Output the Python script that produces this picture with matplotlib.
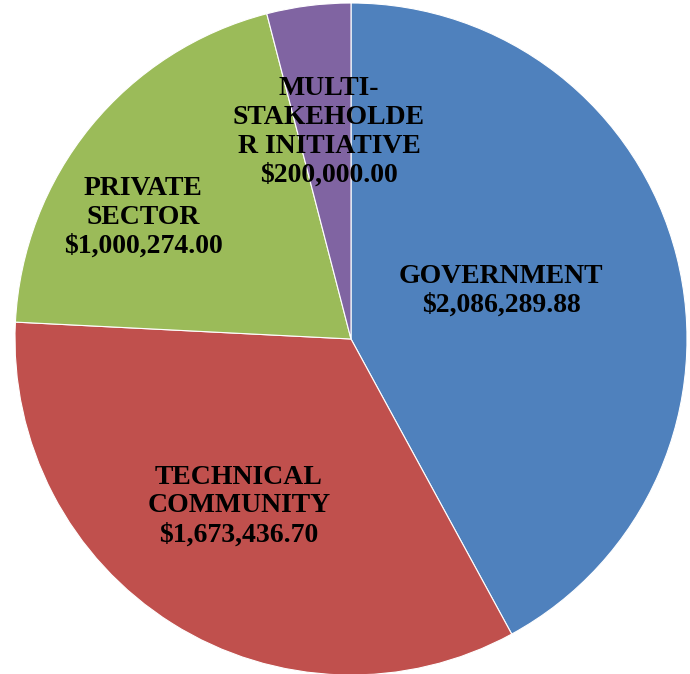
import matplotlib.pyplot as plt

# Datos del gráfico
categorias = ['GOVERNMENT', 'TECHNICAL\nCOMMUNITY', 'PRIVATE\nSECTOR', 'MULTI-\nSTAKEHOLDE\nR INITIATIVE']
montos = [2086289.88, 1673436.70, 1000274.00, 200000.00]
colores = ['#4F81BD', '#C0504D', '#9BBB59', '#8064A2']

# posicion de cada etiqueta (x, y en pixeles de la figura)
pos_etiquetas = [(501, 383), (239, 168), (143, 457), (329, 542)]

fig = plt.figure(figsize=(6.9, 6.74), dpi=100)
ax = fig.add_axes([0, 0, 1, 1])

ax.pie(montos, colors=colores, startangle=90, counterclock=False,
       center=(351, 335), radius=336,
       wedgeprops={'edgecolor': 'white', 'linewidth': 0.8})

# los limites despues de pie(), que los cambia
ax.set_xlim(0, 690)
ax.set_ylim(0, 674)
ax.set_aspect('equal')
ax.axis('off')

for cat, val, (x, y) in zip(categorias, montos, pos_etiquetas):
    ax.text(x, y, f'{cat}\n${val:,.2f}', ha='center', va='center',
            fontsize=20, fontweight='bold', family='Liberation Serif',
            linespacing=1.2, color='black')

fig.savefig('out.png', dpi=100)
